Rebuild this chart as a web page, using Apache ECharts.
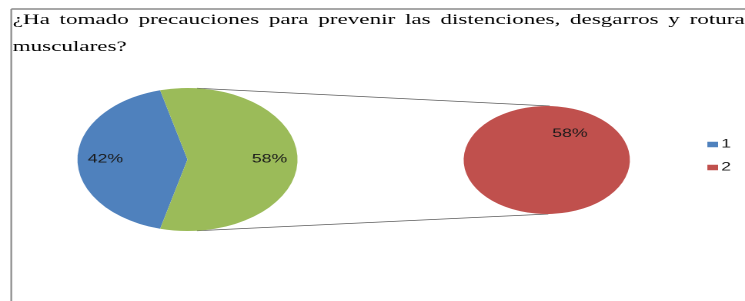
<!DOCTYPE html>
<html>
<head>
<meta charset="utf-8">
<script src="https://cdn.jsdelivr.net/npm/echarts@6/dist/echarts.min.js"></script>
<style>
  html, body { margin: 0; padding: 0; background: #fff; overflow: hidden; }
  /* the source picture is a chart image stretched sideways, so draw narrow and stretch */
  #main { width: 484px; height: 301px; transform: scaleX(1.5393); transform-origin: 0 0; }
</style>
</head>
<body>
<div id="main"></div>
<script>
// datos
const categories = ['1', '2'];
const values = [42, 58];
const otherName = 'Otros';
const colors = ['#4F81BD', '#C0504D'];
const otherColor = '#9BBB59';
const titleLines = [
  '¿Ha tomado precauciones para prevenir las distenciones, desgarros y roturas',
  'musculares?'
];

// layout (unstretched coords)
const leftPie = { cx: 121.8, cy: 159.5, r: 71.5 };
const rightPie = { cx: 355.2, cy: 160, r: 54 };
const titleFamily = 'Liberation Serif';
const titleSize = 15;

const chart = echarts.init(document.getElementById('main'), null, { renderer: 'canvas', devicePixelRatio: 2 });

// justified title, word by word
function titleGraphics() {
  const ctx = document.createElement('canvas').getContext('2d');
  ctx.font = titleSize + 'px ' + titleFamily;
  const out = [];
  const x0 = 8.2, x1 = 489.6;
  const ys = [20, 47];
  const st = { font: titleSize + 'px ' + titleFamily, fill: '#000', verticalAlign: 'middle' };
  titleLines.forEach(function (line, i) {
    if (i === titleLines.length - 1) {
      out.push({ type: 'text', x: x0, y: ys[i], silent: true, style: Object.assign({ text: line }, st) });
      return;
    }
    const words = line.split(' ');
    const widths = words.map(w => ctx.measureText(w).width);
    const total = widths.reduce((a, b) => a + b, 0);
    const gap = (x1 - x0 - total) / (words.length - 1);
    let x = x0;
    words.forEach(function (w, j) {
      out.push({ type: 'text', x: x, y: ys[i], silent: true, style: Object.assign({ text: w }, st) });
      x += widths[j] + gap;
    });
  });
  return out;
}

// connector lines between the "other" slice and the second pie
const a = 4.9 * Math.PI / 180;
const connectors = [
  { type: 'line', silent: true,
    shape: { x1: leftPie.cx + leftPie.r * Math.sin(a), y1: leftPie.cy - leftPie.r * Math.cos(a),
             x2: rightPie.cx + 2, y2: rightPie.cy - rightPie.r },
    style: { stroke: '#5a5a5a', lineWidth: 0.8 } },
  { type: 'line', silent: true,
    shape: { x1: leftPie.cx + leftPie.r * Math.sin(a), y1: leftPie.cy + leftPie.r * Math.cos(a),
             x2: rightPie.cx + 1, y2: rightPie.cy + rightPie.r },
    style: { stroke: '#5a5a5a', lineWidth: 0.8 } }
];

// frame lines
const frame = [
  { type: 'line', silent: true, shape: { x1: 7.3, y1: 9, x2: 490, y2: 9 },
    style: { stroke: '#8a8a8a', lineWidth: 1.4 } },
  { type: 'line', silent: true, shape: { x1: 7.3, y1: 9, x2: 7.3, y2: 305 },
    style: { stroke: '#8a8a8a', lineWidth: 1.1 } }
];

const labelStyle = {
  show: true,
  position: 'inside',
  formatter: '{c}%',
  fontFamily: 'Liberation Sans',
  fontSize: 11.5,
  color: '#1a1a1a'
};

const option = {
  animation: false,
  legend: {
    data: categories,
    orient: 'vertical',
    left: 454.5,
    top: 133.5,
    itemWidth: 7,
    itemHeight: 5.5,
    itemGap: 11,
    icon: 'rect',
    selectedMode: false,
    textStyle: { fontFamily: 'Liberation Sans', fontSize: 11.5, color: '#1a1a1a', padding: [0, 0, 0, -3] }
  },
  graphic: titleGraphics().concat(connectors, frame),
  series: [
    {
      type: 'pie',
      center: [leftPie.cx, leftPie.cy],
      radius: leftPie.r,
      startAngle: 180 + 360 * values[0] / (values[0] + values[1]) / 2,
      clockwise: true,
      avoidLabelOverlap: false,
      label: labelStyle,
      labelLine: { show: false },
      // push labels further out along their slice
      labelLayout: function (p) {
        const lx = p.labelRect.x + p.labelRect.width / 2;
        const ly = p.labelRect.y + p.labelRect.height / 2;
        return { dx: (lx - leftPie.cx) * 0.375, dy: (ly - leftPie.cy) * 0.375 };
      },
      emphasis: { disabled: true },
      itemStyle: { borderWidth: 0 },
      data: [
        { name: categories[0], value: values[0], itemStyle: { color: colors[0] } },
        { name: otherName, value: values[1], itemStyle: { color: otherColor } }
      ]
    },
    {
      type: 'pie',
      center: [rightPie.cx, rightPie.cy],
      radius: rightPie.r,
      startAngle: 240,
      label: labelStyle,
      labelLine: { show: false },
      emphasis: { disabled: true },
      itemStyle: { borderWidth: 0 },
      data: [
        { name: categories[1], value: values[1], itemStyle: { color: colors[1] } }
      ]
    }
  ]
};

chart.setOption(option);
</script>
</body>
</html>
